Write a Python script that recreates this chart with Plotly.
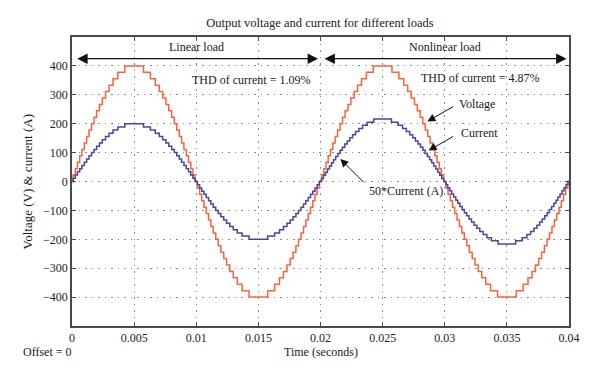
import plotly.graph_objects as go

# ---- axis ticks ----
X_TICKS = [0, 0.005, 0.01, 0.015, 0.02, 0.025, 0.03, 0.035, 0.04]
X_TICK_TEXT = ["0", "0.005", "0.01", "0.015", "0.02", "0.025", "0.03", "0.035", "0.04"]
Y_TICKS = [-400, -300, -200, -100, 0, 100, 200, 300, 400]
Y_TICK_TEXT = ["\u2212400", "\u2212300", "\u2212200", "\u2212100", "0", "100", "200", "300", "400"]

# ---- data ----
# Multilevel staircase: step instants (ms) within a rising quarter wave of a 20 ms cycle
VOLT_LEVEL = 400 / 18           # V per level (18 levels to 400 V)
VOLT_QUARTER_MS = [0.09, 0.27, 0.44, 0.62, 0.80, 0.99, 1.18, 1.37, 1.57,
                   1.77, 1.98, 2.21, 2.44, 2.70, 2.98, 3.30, 3.69, 4.25]
CUR_LIN_LEVEL = 200 / 18        # 50*current per level, linear load (peak 200)
CUR_LIN_QUARTER_MS = [0.09, 0.27, 0.44, 0.62, 0.80, 0.99, 1.18, 1.37, 1.57,
                      1.77, 1.98, 2.21, 2.44, 2.70, 2.98, 3.30, 3.69, 4.25]
CUR_NL_LEVEL = 10.8             # 50*current per level, nonlinear load (peak ~216)
CUR_NL_QUARTER_MS = [0.08, 0.24, 0.40, 0.56, 0.72, 0.89, 1.05, 1.22, 1.40, 1.58,
                     1.76, 1.95, 2.15, 2.36, 2.58, 2.82, 3.09, 3.39, 3.76, 4.29]
CYCLE_STARTS = [0.0, 0.02]
T_END = 0.04


def cycle_steps(quarter_ms, level, t0):
    xs, ys = [], []
    n = len(quarter_ms)
    for sign, half0 in ((1, 0.0), (-1, 10.0)):
        for k, q in enumerate(quarter_ms):
            xs.append(t0 + (half0 + q) / 1000.0)
            ys.append(sign * (k + 1) * level)
        for k, q in enumerate(reversed(quarter_ms)):
            xs.append(t0 + (half0 + 10.0 - q) / 1000.0)
            ys.append(sign * (n - 1 - k) * level)
    return xs, ys


# voltage: same staircase in both cycles
vx, vy = [0.0], [0.0]
for t0 in CYCLE_STARTS:
    x, y = cycle_steps(VOLT_QUARTER_MS, VOLT_LEVEL, t0)
    vx += x
    vy += y
vx.append(T_END)
vy.append(vy[-1])

# current: linear cycle then nonlinear cycle
cx, cy = [0.0], [0.0]
x, y = cycle_steps(CUR_LIN_QUARTER_MS, CUR_LIN_LEVEL, CYCLE_STARTS[0])
cx += x
cy += y
x, y = cycle_steps(CUR_NL_QUARTER_MS, CUR_NL_LEVEL, CYCLE_STARTS[1])
cx += x
cy += y
cx.append(T_END)
cy.append(cy[-1])

RED = "#FA6240"
BLUE = "#47479C"
SERIF = "Liberation Serif, DejaVu Serif, serif"

fig = go.Figure()
fig.add_trace(go.Scatter(x=vx, y=vy, mode="lines", line=dict(color=RED, width=1.5, shape="hv"),
                         name="Voltage", showlegend=False, hoverinfo="skip"))
fig.add_trace(go.Scatter(x=cx, y=cy, mode="lines", line=dict(color=BLUE, width=1.5, shape="hv"),
                         name="50*Current (A)", showlegend=False, hoverinfo="skip"))

axis_common = dict(
    showline=True, linecolor="#4a4a4a", linewidth=1.6, mirror="allticks",
    ticks="inside", ticklen=4, tickwidth=1, tickcolor="#4a4a4a",
    showgrid=True, gridcolor="#8a8a8a", gridwidth=1, griddash="1.5px,5px",
    zeroline=False, tickfont=dict(family=SERIF, size=12, color="#222"),
)
fig.update_xaxes(range=[0, 0.04], tickvals=X_TICKS, ticktext=X_TICK_TEXT, **axis_common)
fig.update_yaxes(range=[-500, 500], tickvals=Y_TICKS, ticktext=Y_TICK_TEXT, **axis_common)

ann_font = dict(family=SERIF, size=12, color="#1a1a1a")
arrow_common = dict(xref="x", yref="y", axref="x", ayref="y", showarrow=True, text="",
                    arrowcolor="#111", standoff=0)
annotations = [
    # double arrows for load regions
    dict(x=0.0198, y=425, ax=0.0003, ay=425, arrowhead=2, arrowside="end+start",
         arrowsize=1.6, arrowwidth=1.3, startarrowhead=2, startarrowsize=1.6, startstandoff=0,
         **arrow_common),
    dict(x=0.0398, y=425, ax=0.0202, ay=425, arrowhead=2, arrowside="end+start",
         arrowsize=1.6, arrowwidth=1.3, startarrowhead=2, startarrowsize=1.6, startstandoff=0,
         **arrow_common),
    dict(x=0.01, y=465, xref="x", yref="y", text="Linear load", showarrow=False, font=ann_font),
    dict(x=0.03, y=465, xref="x", yref="y", text="Nonlinear load", showarrow=False, font=ann_font),
    dict(x=0.0144, y=352, xref="x", yref="y", text="THD of current = 1.09%", showarrow=False, font=ann_font),
    dict(x=0.0328, y=358, xref="x", yref="y", text="THD of current = 4.87%", showarrow=False, font=ann_font),
    dict(x=0.0326, y=269, xref="x", yref="y", text="Voltage", showarrow=False, font=ann_font),
    dict(x=0.0328, y=169, xref="x", yref="y", text="Current", showarrow=False, font=ann_font),
    dict(x=0.0269, y=-34, xref="x", yref="y", text="50*Current (A)", showarrow=False, font=ann_font),
    # pointer arrows
    dict(x=0.0286, y=208, ax=0.0308, ay=262, arrowhead=2, arrowsize=1.6, arrowwidth=1, **arrow_common),
    dict(x=0.0287, y=107, ax=0.0308, ay=159, arrowhead=2, arrowsize=1.6, arrowwidth=1, **arrow_common),
    dict(x=0.0216, y=78, ax=0.0236, ay=-8, arrowhead=2, arrowsize=1.6, arrowwidth=1, **arrow_common),
    # axis titles and offset
    dict(x=0.5, y=-0.09, xref="paper", yref="paper", text="Time (seconds)", showarrow=False,
         font=ann_font, yanchor="middle"),
    dict(x=-0.05, y=-0.09, xref="paper", yref="paper", text="Offset = 0", showarrow=False,
         font=ann_font, xanchor="center", yanchor="middle"),
    dict(x=-0.0905, y=0.5, xref="paper", yref="paper", text="Voltage (V) &amp; current (A)",
         showarrow=False, font=dict(family=SERIF, size=13, color="#1a1a1a"), textangle=-90,
         xanchor="center", yanchor="middle"),
]

fig.update_layout(
    width=600, height=378,
    margin=dict(l=64, r=39, t=29, b=60),
    paper_bgcolor="white", plot_bgcolor="white",
    title=dict(text="Output voltage and current for different loads", x=0.52, xanchor="center",
               y=1 - 15 / 378, yanchor="middle", font=dict(family=SERIF, size=12.5, color="#1a1a1a")),
    annotations=annotations,
    showlegend=False,
)

fig.write_html("out.html")
